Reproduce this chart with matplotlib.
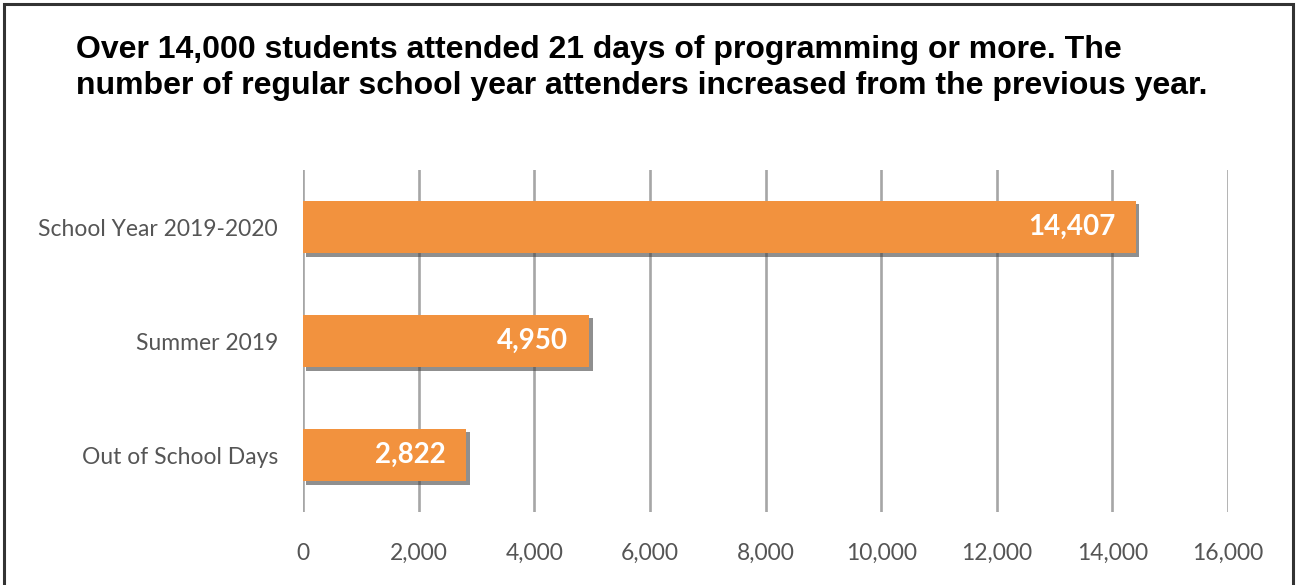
import matplotlib
matplotlib.use("Agg")
import matplotlib.pyplot as plt
import matplotlib.patheffects as pe
from matplotlib.patches import Rectangle

categories = ["School Year 2019-2020", "Summer 2019", "Out of School Days"]
values = [14407, 4950, 2822]
value_labels = ["14,407", "4,950", "2,822"]
xticks = [0, 2000, 4000, 6000, 8000, 10000, 12000, 14000, 16000]
xtick_labels = ["0", "2,000", "4,000", "6,000", "8,000", "10,000", "12,000", "14,000", "16,000"]
title = ("Over 14,000 students attended 21 days of programming or more. The\n"
         "number of regular school year attenders increased from the previous year.")

W, H = 1297, 585
fig = plt.figure(figsize=(W / 100, H / 100), dpi=100)
fig.patch.set_facecolor("white")

# outer frame
fig.patches.append(Rectangle((4 / W, -0.05), (1293 - 4) / W, 1.05 - 4 / H,
                             transform=fig.transFigure, fill=False,
                             edgecolor="#333333", linewidth=2.2, zorder=0))

ax = fig.add_axes([303 / W, 1 - 512 / H, (1228 - 303) / W, (512 - 170) / H])
ypos = list(range(len(categories)))
bars = ax.barh(ypos, values, height=0.46, color="#F2923E", zorder=3)
for b in bars:
    b.set_path_effects([pe.SimplePatchShadow(offset=(2.5, -2.5), shadow_rgbFace="#444444", alpha=0.6),
                        pe.Normal()])

ax.set_ylim(len(categories) - 0.5, -0.5)
ax.set_xlim(0, 16000)
ax.set_yticks(ypos)
ax.set_yticklabels(categories, fontsize=16.5, color="#555555", family=["Lato", "DejaVu Sans"])
ax.set_xticks(xticks)
ax.set_xticklabels(xtick_labels, fontsize=16.5, color="#555555", family=["Lato", "DejaVu Sans"])
ax.tick_params(axis="y", length=0, pad=18)
ax.tick_params(axis="x", length=0, pad=22)
for s in ax.spines.values():
    s.set_visible(False)
ax.grid(axis="x", color="#a6a6a6", linewidth=1.9, zorder=1)
ax.set_axisbelow(True)

for y, v, lab in zip(ypos, values, value_labels):
    ax.annotate(lab, xy=(v, y), xytext=(-15, 0), textcoords="offset points",
                ha="right", va="center", color="white", fontsize=20, fontweight="bold",
                family=["Lato", "DejaVu Sans"], zorder=5)

fig.text(76 / W, 1 - 68 / H, title, ha="left", va="center", fontsize=23,
         fontweight="bold", family=["Liberation Sans", "DejaVu Sans"],
         linespacing=1.22, color="black")

plt.savefig("out.png", dpi=100, facecolor="white")
